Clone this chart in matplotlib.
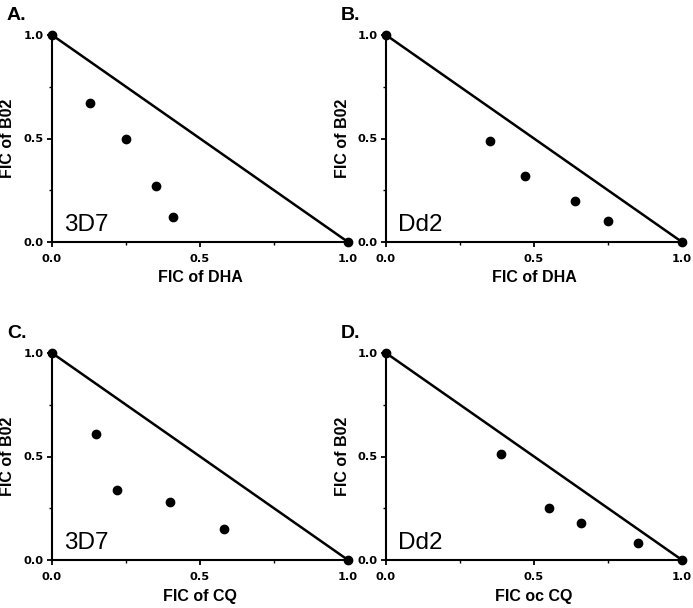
import numpy as np
import matplotlib
matplotlib.use("Agg")
import matplotlib.pyplot as plt

plt.rcParams['font.family'] = ['Liberation Sans', 'DejaVu Sans']

# FIC values
dha_3d7_x = [0.0, 0.13, 0.25, 0.35, 0.41, 1.0]
dha_3d7_y = [1.0, 0.67, 0.50, 0.27, 0.12, 0.0]
dha_dd2_x = [0.0, 0.35, 0.47, 0.64, 0.75, 1.0]
dha_dd2_y = [1.0, 0.49, 0.32, 0.20, 0.10, 0.0]
cq_3d7_x = [0.0, 0.15, 0.22, 0.40, 0.58, 1.0]
cq_3d7_y = [1.0, 0.61, 0.34, 0.28, 0.15, 0.0]
cq_dd2_x = [0.0, 0.39, 0.55, 0.66, 0.85, 1.0]
cq_dd2_y = [1.0, 0.51, 0.25, 0.18, 0.08, 0.0]

panels = [
    ("A.", "3D7", "FIC of DHA", dha_3d7_x, dha_3d7_y),
    ("B.", "Dd2", "FIC of DHA", dha_dd2_x, dha_dd2_y),
    ("C.", "3D7", "FIC of CQ", cq_3d7_x, cq_3d7_y),
    ("D.", "Dd2", "FIC oc CQ", cq_dd2_x, cq_dd2_y),
]

W, H = 693, 608
fig = plt.figure(figsize=(W / 100, H / 100), dpi=100)

# axes boxes in pixels: left, top, width, height
boxes = [(52, 35, 296, 207), (386, 35, 296, 207),
         (52, 353, 296, 207), (386, 353, 296, 207)]

tick_font = dict(family='DejaVu Sans', fontweight='bold', fontsize=8.2)

for (tag, strain, xlab, xs, ys), (l, t, w, h) in zip(panels, boxes):
    ax = fig.add_axes([l / W, 1 - (t + h) / H, w / W, h / H])
    # additivity line
    ax.plot([0, 1], [1, 0], color='black', lw=1.8, clip_on=False, zorder=2)
    ax.plot(xs, ys, 'o', color='black', ms=6, clip_on=False, zorder=3)
    ax.set_xlim(0, 1)
    ax.set_ylim(0, 1)
    for s in ['top', 'right']:
        ax.spines[s].set_visible(False)
    for s in ['left', 'bottom']:
        ax.spines[s].set_linewidth(1.5)
    ax.set_xticks([0, 0.5, 1.0])
    ax.set_yticks([0, 0.5, 1.0])
    ax.set_xticks([0.25, 0.75], minor=True)
    ax.set_yticks([0.25, 0.75], minor=True)
    ax.set_xticklabels(['0.0', '0.5', '1.0'], **tick_font)
    ax.set_yticklabels(['0.0', '0.5', '1.0'], **tick_font)
    ax.tick_params(which='major', direction='out', length=3.6, width=1.3)
    ax.tick_params(which='minor', direction='out', length=2.2, width=1.0)
    ax.tick_params(axis='x', which='major', pad=5)
    ax.tick_params(axis='y', which='major', pad=2.5)
    ax.set_xlabel(xlab, fontsize=11.5, fontweight='bold', va='center')
    ax.xaxis.set_label_coords(0.5, -36 / h)
    ax.set_ylabel("FIC of B02", fontsize=11.5, fontweight='bold', va='center')
    ax.yaxis.set_label_coords(-44 / w, 0.5)
    ax.text(0.04, 0.03, strain, transform=ax.transAxes, fontsize=17.5,
            ha='left', va='bottom')
    fig.text((l - 45) / W, 1 - (t - 15) / H, tag, fontsize=14,
             fontweight='bold', ha='left', va='baseline')

fig.savefig("out.png", dpi=100)
